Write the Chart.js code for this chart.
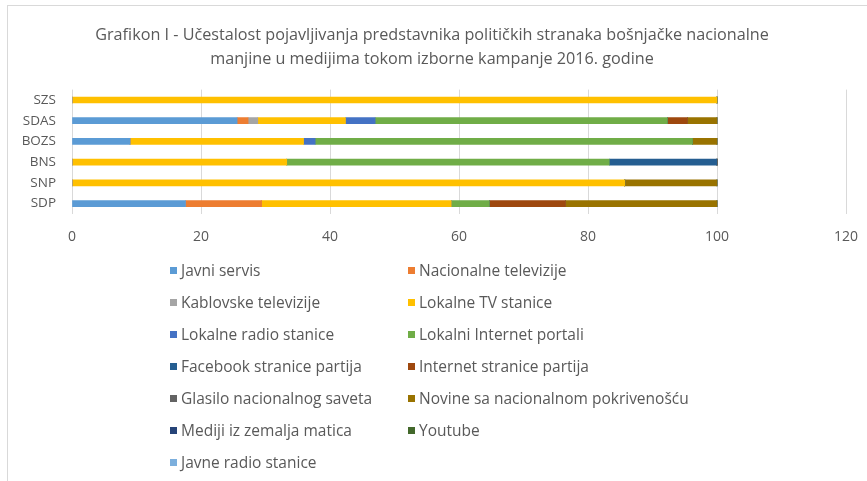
<!DOCTYPE html>
<html>
<head>
<meta charset="utf-8">
<script src="https://cdn.jsdelivr.net/npm/chart.js@4"></script>
<style>
  html, body { margin:0; padding:0; background:#fff; }
  #wrap { position:relative; width:867px; height:481px; overflow:hidden; font-family:'Open Sans', sans-serif; }
  #frame { position:absolute; left:7px; top:5px; width:870px; height:480px; border-top:1px solid #d9d9d9; border-left:1px solid #d9d9d9; }
  #chartBox { position:absolute; left:0; top:0; width:867px; height:250px; }
  #legend { position:absolute; left:0; top:0; width:867px; height:481px; pointer-events:none; }
  .item { position:absolute; font-size:15.5px; color:#595959; white-space:nowrap; line-height:16px; }
  .item span { display:inline-block; width:7px; height:7px; margin-right:4px; vertical-align:2px; }
</style>
</head>
<body>
<div id="wrap">
  <div id="frame"></div>
  <div id="chartBox"><canvas id="chart" width="867" height="250"></canvas></div>
  <div id="legend"></div>
</div>
<script>
const TITLE = ['Grafikon I - Učestalost pojavljivanja predstavnika političkih stranaka bošnjačke nacionalne',
               'manjine u medijima tokom izborne kampanje 2016. godine'];

// categories, top to bottom as drawn
const parties = ['SZS', 'SDAS', 'BOZS', 'BNS', 'SNP', 'SDP'];
const xTicks = [0, 20, 40, 60, 80, 100, 120];

// share (%) of each media type per party, same order as parties
const javniServis        = [0, 25.6, 9.0, 0, 0, 17.6];
const nacionalneTv       = [0, 1.7, 0, 0, 0, 11.8];
const kablovskeTv        = [0, 1.5, 0, 0, 0, 0];
const lokalneTv          = [100, 13.6, 26.9, 33.3, 85.7, 29.4];
const lokalneRadio       = [0, 4.6, 1.8, 0, 0, 0];
const lokalniPortali     = [0, 45.3, 58.5, 50.0, 0, 5.9];
const facebookPartija    = [0, 0, 0, 16.7, 0, 0];
const internetPartija    = [0, 3.1, 0, 0, 0, 11.8];
const glasiloSaveta      = [0, 0, 0, 0, 0, 0];
const novineNacionalne   = [0, 4.6, 3.8, 0, 14.3, 23.5];
const medijiMatica       = [0, 0, 0, 0, 0, 0];
const youtube            = [0, 0, 0, 0, 0, 0];
const javneRadio         = [0, 0, 0, 0, 0, 0];

const series = [
  ['Javni servis', javniServis, '#5B9BD5'],
  ['Nacionalne televizije', nacionalneTv, '#ED7D31'],
  ['Kablovske televizije', kablovskeTv, '#A5A5A5'],
  ['Lokalne TV stanice', lokalneTv, '#FFC000'],
  ['Lokalne radio stanice', lokalneRadio, '#4472C4'],
  ['Lokalni Internet portali', lokalniPortali, '#70AD47'],
  ['Facebook stranice partija', facebookPartija, '#255E91'],
  ['Internet stranice partija', internetPartija, '#9E480E'],
  ['Glasilo nacionalnog saveta', glasiloSaveta, '#636363'],
  ['Novine sa nacionalnom pokrivenošću', novineNacionalne, '#997300'],
  ['Mediji iz zemalja matica', medijiMatica, '#264478'],
  ['Youtube', youtube, '#43682B'],
  ['Javne radio stanice', javneRadio, '#7CAFDD']
];

const FONT = "'Open Sans', sans-serif";
const GREY = '#595959';

const chart = new Chart(document.getElementById('chart'), {
  type: 'bar',
  data: {
    labels: parties,
    datasets: series.map(([label, data, color]) => ({ label, data, backgroundColor: color, borderWidth: 0, barThickness: 6 }))
  },
  options: {
    indexAxis: 'y', responsive: false, animation: false,
    layout: { padding: { left: 18, right: 21, top: 0, bottom: 0 } },
    plugins: {
      legend: { display: false },
      tooltip: { enabled: false },
      title: { display: true, text: TITLE, color: GREY, font: { family: FONT, size: 16.2, weight: 'normal', lineHeight: 1.5 }, padding: { top: 23, bottom: 18 } }
    },
    scales: {
      x: {
        stacked: true, min: 0, max: 120,
        afterBuildTicks: s => { s.ticks = xTicks.map(v => ({ value: v })); },
        afterFit: s => { s.height = 36; s.paddingLeft = 0; s.paddingRight = 0; },
        grid: { color: '#d9d9d9', drawTicks: false },
        border: { display: false },
        ticks: { color: GREY, padding: 15, font: { family: FONT, size: 14 } }
      },
      y: {
        stacked: true,
        afterFit: s => { s.width = 54; },
        grid: { display: false },
        border: { display: false },
        ticks: { color: GREY, padding: 8, font: { family: FONT, size: 13.5 } }
      }
    }
  }
});

// two-column legend like the Excel original
const legend = document.getElementById('legend');
chart.data.datasets.forEach((ds, i) => {
  const el = document.createElement('div');
  el.className = 'item';
  el.style.left = (i % 2 === 0 ? 170 : 408) + 'px';
  el.style.top = (262 + Math.floor(i / 2) * 32) + 'px';
  el.innerHTML = '<span style="background:' + ds.backgroundColor + '"></span>' + ds.label;
  legend.appendChild(el);
});
</script>
</body>
</html>
